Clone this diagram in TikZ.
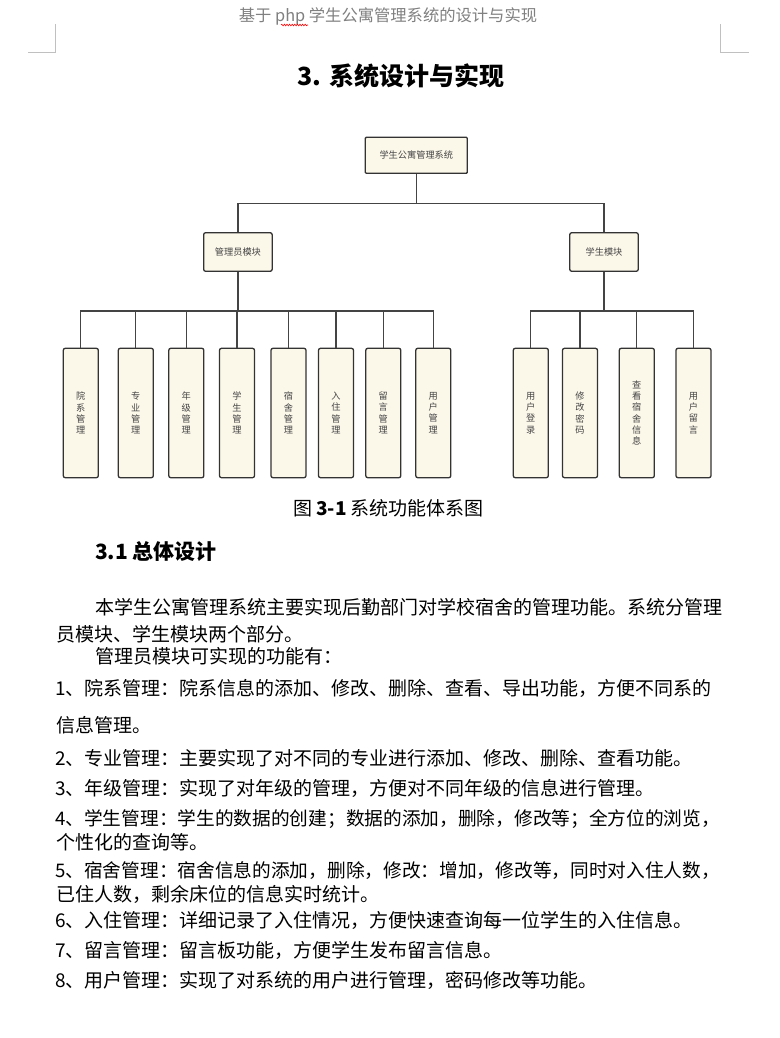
\documentclass[tikz,border=0pt]{standalone}
\usepackage{fontspec}
\newfontfamily\cjk{Noto Sans CJK SC}
\usetikzlibrary{decorations.pathmorphing}
\definecolor{boxfill}{HTML}{FBF7E9}
\definecolor{boxline}{HTML}{333333}
\definecolor{linkcol}{HTML}{444444}
\definecolor{boxtext}{HTML}{454545}
\definecolor{headgray}{HTML}{808080}
\definecolor{markgray}{HTML}{C0C0C0}

\begin{document}
\begin{tikzpicture}[x=1pt, y=-1pt,
  box/.style={draw=boxline, fill=boxfill, line width=1.3pt, rounded corners=2pt, inner sep=0pt, text=boxtext, align=center, font=\cjk\fontsize{9.2}{11.3}\selectfont},
  root/.style={box, minimum width=102pt, minimum height=36pt, rounded corners=1pt},
  module/.style={box, minimum width=68.5pt, minimum height=38.6pt},
  leaf/.style={box, minimum width=35pt, minimum height=129.4pt},
  link/.style={draw=linkcol, line width=1.3pt},
  body/.style={anchor=base west, inner sep=0pt, font=\cjk\fontsize{19}{19}\selectfont},
  tight/.style={body, font=\cjk\fontsize{18.7}{19}\selectfont}]
\fill[white] (0,0) rectangle (779,1038);
\useasboundingbox (0,0) rectangle (779,1038);
% page header and corner marks
\node[anchor=base, inner sep=0pt, text=headgray, font=\cjk\fontsize{16.3}{17}\selectfont] (head) at (388,21.2) {基于 php 学生公寓管理系统的设计与实现};
\draw[red, line width=0.6pt, decorate, decoration={snake, amplitude=0.8pt, segment length=2.6pt}] (281,25) -- (308,25);
\draw[markgray, line width=0.8pt] (28,52.3) -- (55.3,52.3) -- (55.3,24);
\draw[markgray, line width=0.8pt] (720.3,24) -- (720.3,52.3) -- (748.7,52.3);
\node[anchor=base, inner sep=0pt, font=\cjk\bfseries\fontsize{25}{25}\selectfont] (title) at (401,86) {3. 系统设计与实现};

% tree
\node[root] (root) at (416.3,155.3) {学生公寓管理系统};
\node[module] (adm) at (237.9,252) {管理员模块};
\node[module] (stu) at (604,252) {学生模块};
\draw[link] (root.south) -- ++(0,29.7) -| (adm.north);
\draw[link] (root.south) -- ++(0,29.7) -| (stu.north);
\foreach \x/\t [count=\i] in {80.8/{院\\系\\管\\理}, 135.8/{专\\业\\管\\理}, 186.3/{年\\级\\管\\理}, 237/{学\\生\\管\\理}, 288.5/{宿\\舍\\管\\理}, 336/{入\\住\\管\\理}, 383.3/{留\\言\\管\\理}, 433.3/{用\\户\\管\\理}} {
    \node[leaf] (a\i) at (\x,413) {\t};
    \draw[link] (adm.south) -- ++(0,39) -| (a\i.north);
}
\foreach \x/\t [count=\i] in {530.8/{用\\户\\登\\录}, 580/{修\\改\\密\\码}, 636.8/{查\\看\\宿\\舍\\信\\息}, 693.5/{用\\户\\留\\言}} {
    \node[leaf] (s\i) at (\x,413) {\t};
    \draw[link] (stu.south) -- ++(0,39) -| (s\i.north);
}
\node[anchor=base, inner sep=0pt, font=\cjk\fontsize{19}{19}\selectfont] (cap) at (388.5,515.5) {图 \textbf{3-1} 系统功能体系图};

% text body
\node[body, font=\cjk\bfseries\fontsize{21}{21}\selectfont] (sec) at (95,559) {3.1 总体设计};
\node[body] (p1) at (95,614.2) {本学生公寓管理系统主要实现后勤部门对学校宿舍的管理功能。系统分管理};
\node[body] (p2) at (56.5,641.2) {员模块、学生模块两个部分。};
\node[body] (p3) at (95,663.7) {管理员模块可实现的功能有：};
\node[body] (l1) at (55,695.2) {1、院系管理：院系信息的添加、修改、删除、查看、导出功能，方便不同系的};
\node[body] (l1b) at (56,732.2) {信息管理。};
\node[body] (l2) at (55,765.2) {2、专业管理：主要实现了对不同的专业进行添加、修改、删除、查看功能。};
\node[body] (l3) at (55,795.2) {3、年级管理：实现了对年级的管理，方便对不同年级的信息进行管理。};
\node[tight] (l4) at (55,825.2) {4、学生管理：学生的数据的创建；数据的添加，删除，修改等；全方位的浏览，};
\node[body] (l4b) at (56,849.2) {个性化的查询等。};
\node[tight] (l5) at (55,877.7) {5、宿舍管理：宿舍信息的添加，删除，修改：增加，修改等，同时对入住人数，};
\node[body] (l5b) at (56,901.2) {已住人数，剩余床位的信息实时统计。};
\node[body] (l6) at (55,927.7) {6、入住管理：详细记录了入住情况，方便快速查询每一位学生的入住信息。};
\node[body] (l7) at (55,957.2) {7、留言管理：留言板功能，方便学生发布留言信息。};
\node[body] (l8) at (55,987.2) {8、用户管理：实现了对系统的用户进行管理，密码修改等功能。};
\end{tikzpicture}
\end{document}
